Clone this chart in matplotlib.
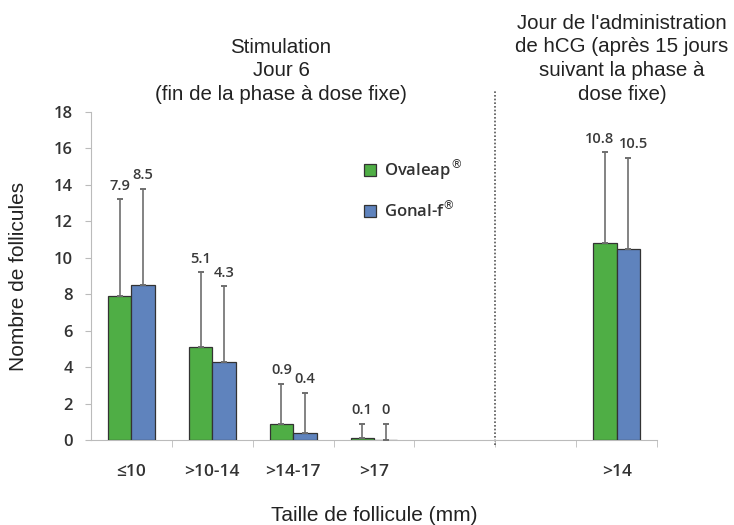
import numpy as np
from matplotlib import pyplot as plt

# data
categories = ['≤10', '>10-14', '>14-17', '>17', '', '', '>14']
ovaleap = [7.9, 5.1, 0.9, 0.1, np.nan, np.nan, 10.8]
gonal = [8.5, 4.3, 0.4, 0.0, np.nan, np.nan, 10.5]
ovaleap_sd = [5.3, 4.1, 2.2, 0.8, np.nan, np.nan, 5.0]
gonal_sd = [5.3, 4.15, 2.2, 0.9, np.nan, np.nan, 5.0]
ovaleap_labels = ['7.9', '5.1', '0.9', '0.1', '', '', '10.8']
gonal_labels = ['8.5', '4.3', '0.4', '0', '', '', '10.5']
yticks = [0, 2, 4, 6, 8, 10, 12, 14, 16, 18]

green = '#4fae45'
blue = '#5f83bd'
num_font = ['Open Sans', 'DejaVu Sans']

plt.rcParams['font.family'] = ['Liberation Sans', 'DejaVu Sans']

fig = plt.figure(figsize=(7.34, 5.25), dpi=100)
ax = fig.add_axes([91 / 734, 1 - 440 / 525, 566 / 734, 328 / 525])

x = np.arange(len(categories))
w = 0.29
ax.bar(x - w / 2, ovaleap, w, color=green, edgecolor='#333333', linewidth=0.9,
       label='Ovaleap$^{®}$', zorder=3)
ax.bar(x + w / 2, gonal, w, color=blue, edgecolor='#333333', linewidth=0.9,
       label='Gonal-f$^{®}$', zorder=3)

# upper error bars only; labels nudged apart a bit when they are wide
for side, xs, vals, sds, labs in [(-1, x - w / 2, ovaleap, ovaleap_sd, ovaleap_labels),
                                  (1, x + w / 2, gonal, gonal_sd, gonal_labels)]:
    for xi, v, s, lab in zip(xs, vals, sds, labs):
        if np.isnan(v):
            continue
        ax.errorbar(xi, v, yerr=[[0], [s]], fmt='none', ecolor='#6e6e6e',
                    elinewidth=1.2, capsize=2.5, capthick=1.4, zorder=4)
        nudge = 0.07 * side if len(lab) > 3 else 0
        ax.text(xi + nudge, v + s + 0.35, lab, ha='center', va='bottom', fontsize=10.5,
                color='#3a3a3a', family=num_font, weight='semibold')

ax.set_xlim(-0.5, len(categories) - 0.5)
ax.set_ylim(0, 18)
ax.set_yticks(yticks)
ax.set_yticklabels([str(t) for t in yticks], family=num_font, weight='semibold')
ax.tick_params(axis='y', labelsize=12, labelcolor='#333333', color='#bbbbbb',
               length=4, pad=9)
ax.set_xticks(x)
ax.set_xticklabels(categories, fontsize=12.5, family=num_font, weight='semibold')
ax.tick_params(axis='x', length=0, pad=17, labelcolor='#333333')
# tick marks between categories
ax.set_xticks(np.arange(len(categories)) + 0.5, minor=True)
ax.tick_params(axis='x', which='minor', length=5, color='#bbbbbb', direction='out')

for side in ['top', 'right']:
    ax.spines[side].set_visible(False)
ax.spines['left'].set_color('#bbbbbb')
ax.spines['bottom'].set_color('#bbbbbb')

# dotted separator
ax.plot([4.5, 4.5], [-0.27, 19.2], color='#555555', linestyle=(0, (1, 1.2)),
        linewidth=1.2, clip_on=False, zorder=2)

ax.set_ylabel('Nombre de follicules', fontsize=15, color='#222222')
ax.yaxis.set_label_coords(-0.111, 0.5)
ax.set_xlabel('Taille de follicule (mm)', fontsize=15, color='#222222')
ax.xaxis.set_label_coords(0.501, -0.2)

fig.text(281 / 734, 1 - 38 / 525, 'Stimulation\nJour 6\n(fin de la phase à dose fixe)',
         ha='center', va='top', fontsize=14.8, linespacing=1.3, color='#222222')
fig.text(622 / 734, 1 - 14 / 525,
         "Jour de l'administration\nde hCG (après 15 jours\nsuivant la phase à\ndose fixe)",
         ha='center', va='top', fontsize=14.8, linespacing=1.3, color='#222222')

ax.legend(loc='center left', bbox_to_anchor=(0.455, 0.765), frameon=False,
          handlelength=0.75, handleheight=0.75, labelspacing=1.1,
          handletextpad=0.45, prop={'family': num_font, 'size': 12, 'weight': 'semibold'},
          labelcolor='#333333')

plt.savefig('out.png', dpi=100)
